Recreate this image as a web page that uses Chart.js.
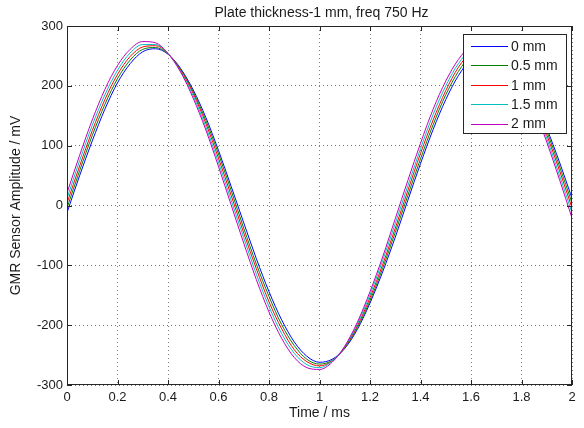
<!DOCTYPE html>
<html>
<head>
<meta charset="utf-8">
<script src="https://cdn.jsdelivr.net/npm/chart.js@4.4.0/dist/chart.umd.min.js"></script>
<style>
  html, body { margin: 0; padding: 0; background: #fff; }
  #wrap { width: 584px; height: 428px; }
</style>
</head>
<body>
<div id="wrap"><canvas id="gmrCanvas"></canvas></div>
<script>
// time axis (ms), sampled every 0.05 ms
const timeMs = [0, 0.05, 0.1, 0.15, 0.2, 0.25, 0.3, 0.35, 0.4, 0.45, 0.5, 0.55, 0.6, 0.65, 0.7,
  0.75, 0.8, 0.85, 0.9, 0.95, 1, 1.05, 1.1, 1.15, 1.2, 1.25, 1.3, 1.35, 1.4, 1.45, 1.5,
  1.55, 1.6, 1.65, 1.7, 1.75, 1.8, 1.85, 1.9, 1.95, 2];

// sensor amplitude (mV), one array per lift-off
const gap0 = [-12, 50, 108, 161, 205, 237, 257, 262, 253, 229, 193, 147, 92, 32, -29, -89, -144,
  -191, -228, -252, -262, -257, -239, -207, -163, -111, -53, 9, 70, 127, 177, 217, 245, 260, 260,
  246, 219, 179, 129, 73, 12];
const gap05 = [-4, 58, 117, 169, 212, 243, 261, 264, 253, 228, 190, 142, 86, 25, -38, -98, -152,
  -199, -234, -257, -265, -259, -238, -204, -159, -105, -45, 17, 78, 135, 185, 224, 251, 264, 262,
  246, 217, 175, 124, 66, 4];
const gap1 = [4, 66, 125, 177, 219, 249, 265, 267, 254, 226, 187, 137, 79, 17, -46, -106, -161,
  -206, -241, -261, -268, -260, -237, -201, -154, -99, -38, 25, 87, 143, 192, 231, 256, 267, 264,
  246, 214, 171, 118, 59, -4];
const gap15 = [12, 75, 134, 185, 226, 255, 269, 269, 254, 224, 183, 131, 72, 9, -54, -115, -169,
  -214, -247, -266, -271, -260, -236, -198, -149, -92, -30, 33, 95, 152, 200, 237, 261, 271, 265,
  245, 212, 166, 112, 51, -12];
const gap2 = [21, 84, 143, 194, 234, 261, 274, 272, 254, 223, 179, 126, 65, 1, -63, -124, -178,
  -222, -254, -271, -274, -262, -235, -195, -144, -86, -22, 42, 104, 161, 208, 244, 267, 275, 268,
  245, 210, 162, 106, 44, -21];

const seriesNames = ['0 mm', '0.5 mm', '1 mm', '1.5 mm', '2 mm'];
const xTicks = [0, 0.2, 0.4, 0.6, 0.8, 1, 1.2, 1.4, 1.6, 1.8, 2];
const xTickLabels = ['0', '0.2', '0.4', '0.6', '0.8', '1', '1.2', '1.4', '1.6', '1.8', '2'];
const yTicks = [-300, -200, -100, 0, 100, 200, 300];
const yTickLabels = ['-300', '-200', '-100', '0', '100', '200', '300'];
const chartTitle = 'Plate thickness-1 mm, freq 750 Hz';

// matlab default line colours
const colors = ['#0000ff', '#008000', '#ff0000', '#00bfbf', '#bf00bf'];
const FONT = 'Liberation Sans, Arial, Helvetica, sans-serif';
const TEXT = '#1a1a1a';

const toPoints = (vals) => timeMs.map((t, i) => ({ x: t, y: vals[i] }));

const datasets = [gap0, gap05, gap1, gap15, gap2].map((vals, i) => ({
  label: seriesNames[i],
  data: toPoints(vals),
  borderColor: colors[i],
  borderWidth: 1,
  pointRadius: 0,
  cubicInterpolationMode: 'monotone',
  order: 4 - i // first series drawn first, like matlab
}));

// frame, inner tick marks, title and the boxed legend inside the axes
const matlabAxes = {
  id: 'matlabAxes',
  afterDatasetsDraw(chart) {
    const { ctx, chartArea: a, scales: { x, y } } = chart;
    ctx.save();
    ctx.strokeStyle = '#262626';
    ctx.lineWidth = 1;
    ctx.beginPath();
    xTicks.forEach(v => {
      const px = Math.round(x.getPixelForValue(v)) + 0.5;
      ctx.moveTo(px, a.bottom); ctx.lineTo(px, a.bottom - 5);
      ctx.moveTo(px, a.top); ctx.lineTo(px, a.top + 5);
    });
    yTicks.forEach(v => {
      const py = Math.round(y.getPixelForValue(v)) + 0.5;
      ctx.moveTo(a.left, py); ctx.lineTo(a.left + 5, py);
      ctx.moveTo(a.right, py); ctx.lineTo(a.right - 5, py);
    });
    ctx.stroke();
    ctx.strokeRect(Math.round(a.left) + 0.5, Math.round(a.top) + 0.5,
      Math.round(a.width) - 1, Math.round(a.height) - 1);

    // title over the plot box
    ctx.fillStyle = TEXT;
    ctx.font = '14px ' + FONT;
    ctx.textAlign = 'center';
    ctx.textBaseline = 'middle';
    ctx.fillText(chartTitle, (a.left + a.right) / 2 + 2, 13);

    // legend
    const w = 103, h = 99;
    const lx = Math.round(a.right) - 6 - w, ly = Math.round(a.top) + 8;
    ctx.fillStyle = '#fff';
    ctx.fillRect(lx, ly, w, h);
    ctx.strokeStyle = '#262626';
    ctx.strokeRect(lx + 0.5, ly + 0.5, w, h);
    ctx.textAlign = 'left';
    ctx.font = '14px ' + FONT;
    chart.data.datasets.forEach((ds, i) => {
      const ry = ly + 12 + i * 19.4;
      ctx.strokeStyle = ds.borderColor;
      ctx.beginPath();
      ctx.moveTo(lx + 8, Math.round(ry) + 0.5);
      ctx.lineTo(lx + 45, Math.round(ry) + 0.5);
      ctx.stroke();
      ctx.fillStyle = TEXT;
      ctx.fillText(ds.label, lx + 48, ry + 1);
    });
    ctx.restore();
  }
};

new Chart(document.getElementById('gmrCanvas'), {
  type: 'line',
  data: { datasets },
  options: {
    responsive: true,
    maintainAspectRatio: false,
    animation: false,
    layout: {
      padding: { left: 0, right: 12, top: 26, bottom: 0 }
    },
    scales: {
      x: {
        type: 'linear',
        min: 0,
        max: 2,
        afterFit: (s) => { s.height = 43; },
        afterBuildTicks: (s) => { s.ticks = xTicks.map(v => ({ value: v })); },
        ticks: {
          padding: 5,
          maxRotation: 0,
          autoSkip: false,
          color: TEXT,
          font: { family: FONT, size: 13 },
          callback: (v) => xTickLabels[xTicks.indexOf(v)]
        },
        grid: {
          color: 'rgba(0,0,0,0.5)',
          drawTicks: false
        },
        border: { display: false, dash: [1, 3] },
        title: {
          display: true,
          text: 'Time / ms',
          color: TEXT,
          font: { family: FONT, size: 14 },
          padding: { top: 0, bottom: 6 }
        }
      },
      y: {
        type: 'linear',
        min: -300,
        max: 300,
        afterFit: (s) => { s.width = 67; },
        afterBuildTicks: (s) => { s.ticks = yTicks.map(v => ({ value: v })); },
        ticks: {
          padding: 4,
          autoSkip: false,
          color: TEXT,
          font: { family: FONT, size: 13 },
          callback: (v) => yTickLabels[yTicks.indexOf(v)]
        },
        grid: {
          color: 'rgba(0,0,0,0.55)',
          drawTicks: false
        },
        border: { display: false, dash: [1, 3] },
        title: {
          display: true,
          text: 'GMR Sensor Amplitude / mV',
          color: TEXT,
          font: { family: FONT, size: 14 },
          padding: { top: 8, bottom: 0 }
        }
      }
    },
    plugins: {
      legend: { display: false },
      title: { display: false },
      tooltip: { enabled: false }
    }
  },
  plugins: [matlabAxes]
});
</script>
</body>
</html>
